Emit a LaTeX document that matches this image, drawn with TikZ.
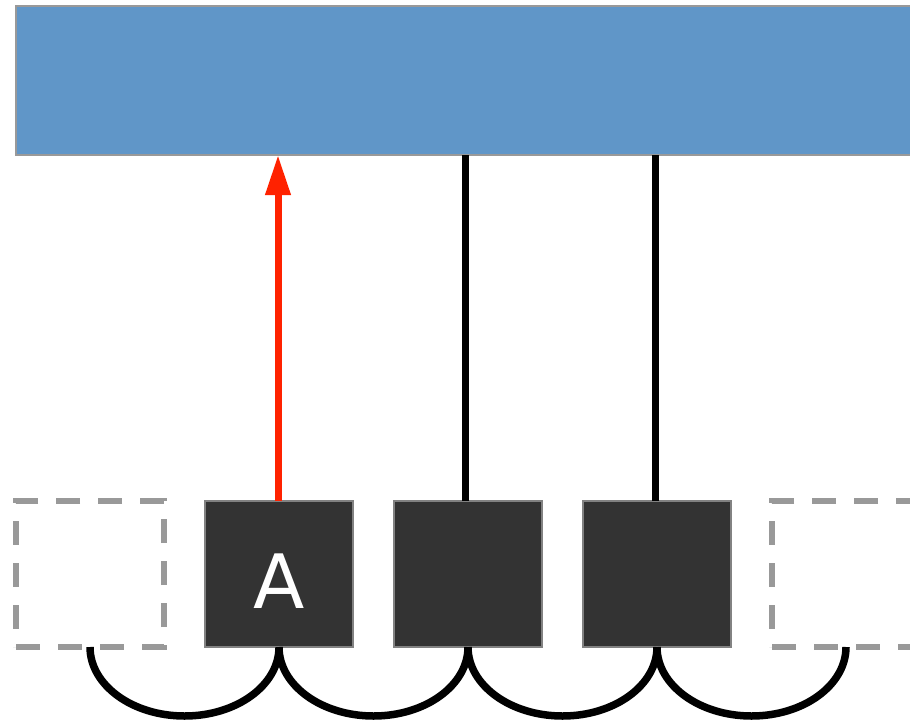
\documentclass[tikz,border=0pt]{standalone}
\usepackage{fontspec}
\newfontfamily\labelfont{DejaVu Sans}
\usetikzlibrary{arrows.meta}
\definecolor{barblue}{HTML}{6096C8}
\definecolor{edgegray}{HTML}{999999}
\definecolor{boxdark}{HTML}{333333}
\definecolor{arrowred}{HTML}{FF2200}
\tikzset{
  cell/.style={draw=edgegray!85!black, line width=1.5pt, fill=boxdark, minimum width=148pt, minimum height=146pt, inner sep=0pt, outer sep=0pt},
  ghost/.style={draw=edgegray, line width=5.5pt, dash pattern=on 24pt off 18pt, minimum width=148pt, minimum height=146pt, inner sep=0pt, outer sep=0pt},
  link/.style={line width=7pt, black},
  loop/.style={line width=7.5pt, black},
  celltext/.style={text=white, font=\labelfont\fontsize{75}{80}\selectfont, inner sep=0pt},
}
\begin{document}
\begin{tikzpicture}[x=1pt,y=-1pt]
\useasboundingbox (0,0) rectangle (910,723);
\clip (0,0) rectangle (910,723);
\node[draw=edgegray, line width=2pt, fill=barblue, minimum width=910pt, minimum height=149pt, inner sep=0pt, outer sep=0pt] (bar) at (471,80.5) {};
\node[ghost] (L) at (90,574) {};
\node[ghost] (R) at (846,574) {};
\draw[loop] (L.south) arc[start angle=180, end angle=360, x radius=94.5pt, y radius=69pt];
\node[cell] (A) at (279,574) {};
\node[celltext] (Atext) at ([yshift=-7.5pt]A.center) {A};
\node[cell] (B) at (468,574) {};
\node[cell] (C) at (657,574) {};
\draw[link, arrowred, -{Triangle[length=40pt,width=24pt]}] (A.north -| 278,0) -- (278,0 |- bar.south);
\draw[link] (B.north -| 465.5,0) -- (465.5,0 |- bar.south);
\draw[link] (C.north -| 655,0) -- (655,0 |- bar.south);
\draw[loop] (A.south) arc[start angle=180, end angle=360, x radius=94.5pt, y radius=69pt];
\draw[loop] (B.south) arc[start angle=180, end angle=360, x radius=94.5pt, y radius=69pt];
\draw[loop] (C.south) arc[start angle=180, end angle=360, x radius=94.5pt, y radius=69pt];
\end{tikzpicture}
\end{document}
